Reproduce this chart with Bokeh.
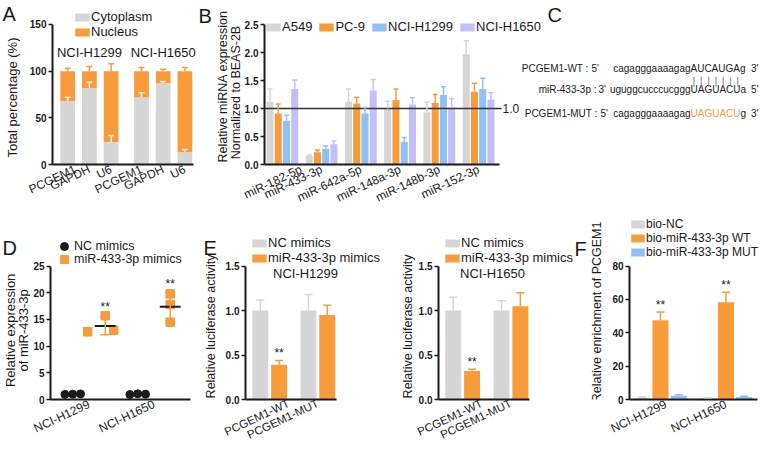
import math
import statistics
from bokeh.plotting import figure
from bokeh.layouts import row, column
from bokeh.models import (Range1d, FixedTicker, Label, Legend, LegendItem, Whisker,
                          TeeHead, ColumnDataSource, PrintfTickFormatter)
from bokeh.embed import file_html
from bokeh.resources import INLINE
from bokeh.core.properties import value

# ---------------- data ----------------
# A: subcellular fractionation (% of total)
A_cells = ["NCI-H1299", "NCI-H1650"]
A_genes = ["PCGEM1", "GAPDH", "U6"]
A_cyto = [68, 82, 24, 72, 87, 13]
A_cyto_err = [4, 6, 7, 5, 2, 3]
A_total = [100, 100, 100, 100, 100, 100]
A_nuc_err = [3, 5, 8, 4, 2, 4]
A_yticks = [0, 50, 100, 150]

# B: relative miRNA expression
B_mirs = ["miR-182-5p", "miR-433-3p", "miR-642a-5p", "miR-148a-3p", "miR-148b-3p", "miR-152-3p"]
B_lines = ["A549", "PC-9", "NCI-H1299", "NCI-H1650"]
B_a549 = [1.12, 0.15, 1.12, 1.00, 0.93, 1.97]
B_a549_err = [0.23, 0.02, 0.23, 0.13, 0.18, 0.24]
B_pc9 = [0.91, 0.22, 1.09, 1.15, 1.10, 1.30]
B_pc9_err = [0.17, 0.04, 0.11, 0.20, 0.15, 0.15]
B_h1299 = [0.78, 0.28, 0.91, 0.40, 1.24, 1.35]
B_h1299_err = [0.10, 0.05, 0.11, 0.08, 0.15, 0.19]
B_h1650 = [1.35, 0.36, 1.32, 1.07, 1.02, 1.16]
B_h1650_err = [0.16, 0.06, 0.20, 0.12, 0.16, 0.12]
B_yticks = [0, 0.5, 1.0, 1.5, 2.0, 2.5]
B_ref = 1.0

# C: binding sequences
C_names = ["PCGEM1-WT :", "miR-433-3p :", "PCGEM1-MUT :"]
C_ends5 = ["5'", "3'", "5'"]
C_ends3 = ["3'", "5'", "3'"]
C_lower = ["cagagggaaaagag", "uguggcucccucggg", "cagagggaaaagag"]
C_seed = ["AUCAUGAg", "UAGUACUa", "UAGUACU"]
C_mut_tail = "g"
C_pairs = 7

# D: miR-433-3p expression after mimics
D_cells = ["NCI-H1299", "NCI-H1650"]
D_nc = [[0.95, 1.00, 1.05], [0.92, 1.06, 1.00]]
D_mimic = [[12.7, 15.7, 13.0], [14.5, 17.8, 19.8]]
D_yticks = [0, 5, 10, 15, 20, 25]

# E: luciferase reporter
E_constructs = ["PCGEM1-WT", "PCGEM1-MUT"]
E1_nc = [1.0, 1.0]
E1_nc_err = [0.12, 0.18]
E1_mim = [0.39, 0.95]
E1_mim_err = [0.05, 0.11]
E2_nc = [1.0, 1.0]
E2_nc_err = [0.15, 0.11]
E2_mim = [0.32, 1.05]
E2_mim_err = [0.02, 0.15]
E_yticks = [0, 0.5, 1.0, 1.5]

# F: biotin pull-down
F_cells = ["NCI-H1299", "NCI-H1650"]
F_nc = [1.0, 0.8]
F_nc_err = [0.5, 0.2]
F_wt = [47.5, 58.3]
F_wt_err = [5.0, 6.0]
F_mut = [2.3, 1.5]
F_mut_err = [0.6, 0.4]
F_yticks = [0, 20, 40, 60, 80]

# ---------------- style ----------------
FONT = "Liberation Sans"
INK = "#1a1a1a"
GRAY = "#d6d6d6"
ORANGE = "#f89b3b"
BLUE = "#90c1f5"
PURPLE = "#c5bff7"
ROT = 0.44
HALF_PI = math.pi / 2


def panel(W, H, MBL, MBB, xr, yr):
    p = figure(width=W, height=H, x_range=Range1d(*xr), y_range=Range1d(*yr),
               output_backend="svg", toolbar_location=None,
               min_border_left=MBL, min_border_right=0, min_border_top=0,
               min_border_bottom=MBB)
    p.outline_line_color = None
    p.xgrid.visible = False
    p.ygrid.visible = False
    p.background_fill_color = "white"
    p.border_fill_color = "white"
    return p


def strip(W, H, MBB):
    # text-only canvas; its frame is aligned with the row's plot frames
    p = figure(width=W, height=H, x_range=Range1d(0, W), y_range=Range1d(H - MBB, 0),
               x_axis_type=None, y_axis_type=None, output_backend="svg",
               toolbar_location=None, min_border=0, min_border_left=0,
               min_border_right=0, min_border_top=0, min_border_bottom=MBB)
    p.outline_line_color = None
    p.background_fill_color = "white"
    p.border_fill_color = "white"
    return p


def stxt(p, x, y, s, size="13px", angle=0.0, align="left", baseline="middle"):
    p.add_layout(Label(x=x, y=y, text=s, angle=angle, text_align=align,
                       text_baseline=baseline, text_font=FONT, text_font_size=size,
                       text_color=INK))


def style_axes(p, yticks, ybounds, xticks, xlabels, xbounds, yfmt=None, xsize="12px",
               standoff=4):
    ya = p.yaxis[0]
    ya.ticker = FixedTicker(ticks=yticks)
    ya.bounds = ybounds
    if yfmt:
        ya.formatter = PrintfTickFormatter(format=yfmt)
    ya.axis_line_width = 2
    ya.axis_line_color = INK
    ya.major_tick_line_width = 1.5
    ya.major_tick_line_color = INK
    ya.major_tick_out = 4
    ya.major_tick_in = 0
    ya.minor_tick_out = 0
    ya.minor_tick_in = 0
    ya.major_label_text_font = FONT
    ya.major_label_text_font_size = "10px"
    ya.major_label_text_font_style = "bold"
    ya.major_label_text_color = INK
    ya.major_label_standoff = 2
    xa = p.xaxis[0]
    xa.ticker = FixedTicker(ticks=list(xticks))
    xa.bounds = xbounds
    xa.major_label_overrides = {float(t): lab for t, lab in zip(xticks, xlabels)}
    xa.axis_line_width = 2
    xa.axis_line_color = INK
    xa.major_tick_out = 0
    xa.major_tick_in = 0
    xa.minor_tick_out = 0
    xa.minor_tick_in = 0
    xa.major_label_orientation = ROT
    xa.major_label_standoff = standoff
    xa.major_label_text_font = FONT
    xa.major_label_text_font_size = xsize
    xa.major_label_text_color = INK


def rel(p, x, y, s, size="13px", align="left", baseline="middle", color=INK):
    # x, y relative to the frame's bottom-left corner (y upward), in pixels
    p.add_layout(Label(x=x, y=y, x_units="screen", y_units="screen", text=s,
                       text_align=align, text_baseline=baseline, text_font=FONT,
                       text_font_size=size, text_color=color))


def whisk(p, xs, lo, hi, color, head=7, both=False, width=1.5):
    src = ColumnDataSource(dict(x=list(xs), lo=list(lo), hi=list(hi)))
    w = Whisker(source=src, base="x", lower="lo", upper="hi", dimension="height",
                level="annotation", line_color=color, line_width=width,
                upper_head=TeeHead(size=head, line_color=color, line_width=width),
                lower_head=TeeHead(size=head, line_color=color, line_width=width) if both else None)
    p.add_layout(w)


def legend(p, items, vx, vy, size="13px", gw=18, gh=10, orientation="vertical", spacing=0):
    lg = Legend(items=[LegendItem(label=l, renderers=[r]) for l, r in items],
                location=(vx, vy), orientation=orientation, spacing=spacing,
                padding=0, margin=0, border_line_color=None, background_fill_alpha=0,
                glyph_width=gw, glyph_height=gh, label_height=10, label_width=10,
                label_standoff=0, label_text_font=FONT, label_text_font_size=size,
                label_text_color=INK)
    p.add_layout(lg)


def stars(p, xs, ys, off=7):
    p.text(x=list(xs), y=list(ys), text=["**"] * len(xs), text_font=value(FONT),
           text_font_size=value("12px"), text_align="center", text_baseline="middle",
           y_offset=-off, text_color=INK)


def add(a, b):
    return [u + v for u, v in zip(a, b)]


# ================= top row (height 215, x-axis at y=164) =================
HT, MBT = 215, 51
# ---- strip A ----
sA = strip(26, HT, MBT)
stxt(sA, 2, 2, "A", size="20px", baseline="top")
stxt(sA, 12, 97, "Total percentage (%)", angle=HALF_PI, align="center")

# ---- panel A ----
A_x = [g * 3.4 + j for g in range(len(A_cells)) for j in range(len(A_genes))]
pA = panel(172, HT, 24, MBT, (-0.7, 6.027), (0, 175.7))
rA1 = pA.vbar(x=A_x, bottom=0, top=A_cyto, width=0.68, fill_color=GRAY, line_color=None)
rA2 = pA.vbar(x=A_x, bottom=A_cyto, top=A_total, width=0.68, fill_color=ORANGE, line_color=None)
whisk(pA, A_x, A_cyto, add(A_cyto, A_cyto_err), "#ececec", 6)
whisk(pA, A_x, A_total, add(A_total, A_nuc_err), ORANGE, 6)
style_axes(pA, A_yticks, (0, 150), A_x, A_genes * 2, (-0.7, 5.8))
for g, cell in enumerate(A_cells):
    pA.add_layout(Label(x=g * 3.4 + 1, y=120, text=cell, text_align="center",
                        text_baseline="middle", text_font=FONT, text_font_size="13px",
                        text_color=INK))
legend(pA, [("Cytoplasm", rA1), ("Nucleus", rA2)], 21, 125)

# ---- strip B ----
sB = strip(43, HT, MBT)
stxt(sB, 0, 4, "B", size="20px", baseline="top")
stxt(sB, 24, 86, "Relative miRNA expression", size="12.5px", angle=HALF_PI, align="center")
stxt(sB, 37, 92, "Normalized to BEAS-2B", size="12.5px", angle=HALF_PI, align="center")

# ---- panel B (+ panel C text) ----
pB = panel(521, HT, 21, MBT, (-0.14, 12.55), (0, 2.9286))
B_series = [(B_a549, B_a549_err, GRAY), (B_pc9, B_pc9_err, ORANGE),
            (B_h1299, B_h1299_err, BLUE), (B_h1650, B_h1650_err, PURPLE)]
rB = []
for k, (v, e, c) in enumerate(B_series):
    xs = [g + k * 0.21 for g in range(len(B_mirs))]
    r = pB.vbar(x=xs, bottom=0, top=v, width=0.18, fill_color=c, line_color=None)
    whisk(pB, xs, v, add(v, e), c, 5)
    rB.append(r)
pB.segment(x0=[-0.14], x1=[5.9], y0=[B_ref], y1=[B_ref], line_color="#333333", line_width=1.5)
pB.add_layout(Label(x=5.9, y=B_ref, x_offset=1, text="%.1f" % B_ref, text_baseline="middle",
                    text_font=FONT, text_font_size="12px", text_color=INK))
style_axes(pB, B_yticks, (0, 2.5), [g + 0.315 for g in range(len(B_mirs))], B_mirs,
           (-0.14, 5.85), yfmt="%.1f")
legend(pB, list(zip(B_lines, rB)), 0, 130, orientation="horizontal", spacing=5)

# panel C (frame-relative pixels: x from B's y-axis, y up from B's x-axis)
rel(pB, 283, 161, "C", size="20px", baseline="top")
C_rows = [96, 75, 51]
C_name_r = [324, 332, 333]
C_end5_l = [327, 334, 336]
SEED = 426
C_RIGHT = 494
for i in range(3):
    y = C_rows[i]
    rel(pB, C_name_r[i], y, C_names[i], size="10px", align="right")
    rel(pB, C_end5_l[i], y, C_ends5[i], size="10px")
    rel(pB, SEED, y, C_lower[i], size="10px", align="right")
    rel(pB, C_RIGHT, y, C_ends3[i], size="10px", align="right")
rel(pB, SEED, C_rows[0], C_seed[0], size="10px")
rel(pB, SEED, C_rows[1], C_seed[1], size="10px")
rel(pB, SEED, C_rows[2], C_seed[2], size="10px", color=ORANGE)
rel(pB, SEED + 50, C_rows[2], C_mut_tail, size="10px")
for i in range(C_pairs):
    rel(pB, SEED + 3.5 + i * 7.3, 84, "|", size="11px", align="center", color="#808080")

# ================= bottom row (height 234, x-axis at y=189) =================
HB, MBB = 234, 45
# ---- strip D ----
sD = strip(30, HB, MBB)
stxt(sD, 2, 22, "D", size="20px", baseline="top")
stxt(sD, 10, 118, "Relative expression", angle=HALF_PI, align="center")
stxt(sD, 23, 118, "of miR-433-3p", angle=HALF_PI, align="center")

# ---- panel D ----
pD = panel(170, HB, 20, MBB, (-0.592, 1.716), (0, 34.49))
NC_OFF = -0.25
MM_OFF = 0.25
NC_JIT = [-0.12, 0.0, 0.12]
MM_JIT = [[-0.27, 0.0, 0.13], [0.0, 0.0, 0.0]]
nc_x, nc_y, mm_x, mm_y = [], [], [], []
for g in range(len(D_cells)):
    for j, v in enumerate(D_nc[g]):
        nc_x.append(g + NC_OFF + NC_JIT[j]); nc_y.append(v)
    for j, v in enumerate(D_mimic[g]):
        mm_x.append(g + MM_OFF + MM_JIT[g][j]); mm_y.append(v)
nc_mean = [statistics.mean(v) for v in D_nc]
mm_mean = [statistics.mean(v) for v in D_mimic]
mm_sd = [statistics.stdev(v) for v in D_mimic]
mm_cx = [g + MM_OFF for g in range(len(D_cells))]
whisk(pD, mm_cx, [m - s for m, s in zip(mm_mean, mm_sd)], [m + s for m, s in zip(mm_mean, mm_sd)],
      ORANGE, 10, both=True)
pD.segment(x0=[g + NC_OFF - 0.16 for g in range(2)], x1=[g + NC_OFF + 0.16 for g in range(2)],
           y0=nc_mean, y1=nc_mean, line_color=INK, line_width=2)
rD1 = pD.scatter(nc_x, nc_y, marker="circle", size=8, fill_color=INK, line_color=INK)
rD2 = pD.scatter(mm_x, mm_y, marker="square", size=8.5, fill_color=ORANGE, line_color=ORANGE)
pD.segment(x0=[c - 0.16 for c in mm_cx], x1=[c + 0.16 for c in mm_cx],
           y0=mm_mean, y1=mm_mean, line_color=INK, line_width=2)
stars(pD, mm_cx, [max(m + s, max(v)) for m, s, v in zip(mm_mean, mm_sd, D_mimic)], off=9)
style_axes(pD, D_yticks, (0, 25), [0, 1], D_cells, (-0.592, 1.562))
legend(pD, [("NC mimics", rD1)], 4, 143, size="12.5px", gw=20, gh=20)
legend(pD, [("miR-433-3p mimics", rD2)], 4, 130, size="12.5px", gw=20, gh=20)


# ---- panel E ----
def panel_E(W, xr, nc, nce, mm, mme, cell, cell_x):
    p = panel(W, HB, 21, MBB, xr, (0, 2.0693))
    xs_nc = [g - 0.195 for g in range(len(E_constructs))]
    xs_mm = [g + 0.195 for g in range(len(E_constructs))]
    r1 = p.vbar(x=xs_nc, bottom=0, top=nc, width=0.33, fill_color=GRAY, line_color=None)
    r2 = p.vbar(x=xs_mm, bottom=0, top=mm, width=0.33, fill_color=ORANGE, line_color=None)
    whisk(p, xs_nc, nc, add(nc, nce), GRAY, 8)
    whisk(p, xs_mm, mm, add(mm, mme), ORANGE, 8)
    stars(p, [xs_mm[0]], [mm[0] + mme[0]], off=7)
    style_axes(p, E_yticks, (0, 1.5), list(range(len(E_constructs))), E_constructs,
               (xr[0], xr[0] + 1.887), yfmt="%.1f", xsize="11.5px", standoff=3)
    legend(p, [("NC mimics", r1), ("miR-433-3p mimics", r2)], 5, 134)
    rel(p, cell_x, 126, cell, align="center")
    return p


sE1 = strip(22, HB, MBB)
stxt(sE1, 3, 22, "E", size="20px", baseline="top")
stxt(sE1, 10, 114, "Relative luciferase activity", size="12.5px", angle=HALF_PI, align="center")
pE1 = panel_E(178, (-0.503, 2.718), E1_nc, E1_nc_err, E1_mim, E1_mim_err, "NCI-H1299", 60)

sE2 = strip(15, HB, MBB)
stxt(sE2, 7, 114, "Relative luciferase activity", size="12.5px", angle=HALF_PI, align="center")
pE2 = panel_E(159, (-0.5, 2.316), E2_nc, E2_nc_err, E2_mim, E2_mim_err, "NCI-H1650", 54)

# ---- strip F ----
sF = strip(34, HB, MBB)
stxt(sF, 0, 23, "F", size="20px", baseline="top")
stxt(sF, 22, 99, "Relative enrichment of PCGEM1", size="12.5px", angle=HALF_PI, align="center")

# ---- panel F ----
pF = panel(154, HB, 21, MBB, (-0.473, 1.558), (0, 110.36))
F_series = [(F_nc, F_nc_err, GRAY, -0.28), (F_wt, F_wt_err, ORANGE, 0.0),
            (F_mut, F_mut_err, BLUE, 0.28)]
rF = []
for v, e, c, off in F_series:
    xs = [g + off for g in range(len(F_cells))]
    r = pF.vbar(x=xs, bottom=0, top=v, width=0.245, fill_color=c, line_color=None)
    whisk(pF, xs, v, add(v, e), c, 8)
    rF.append(r)
stars(pF, list(range(len(F_cells))), add(F_wt, F_wt_err), off=7)
style_axes(pF, F_yticks, (0, 80), list(range(len(F_cells))), F_cells, (-0.473, 1.481))
legend(pF, [("bio-NC", rF[0]), ("bio-miR-433-3p WT", rF[1]), ("bio-miR-433-3p MUT", rF[2])],
       0, 140, size="12px", gw=17, gh=10)

layout = column(row(sA, pA, sB, pB), row(sD, pD, sE1, pE1, sE2, pE2, sF, pF))
open("out.html", "w").write(file_html(layout, INLINE))
